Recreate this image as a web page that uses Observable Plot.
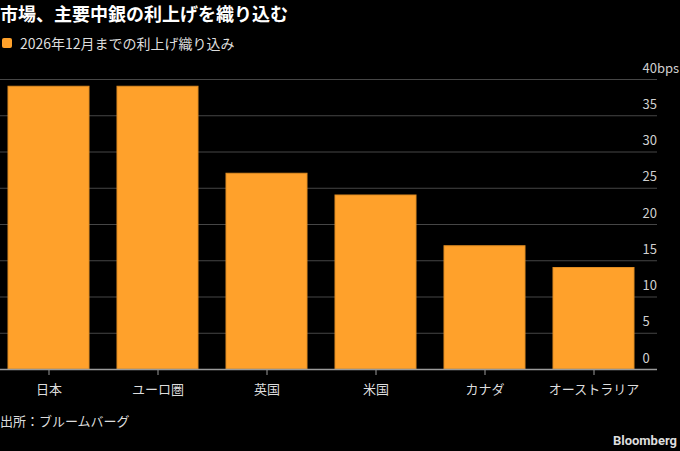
<!DOCTYPE html>
<html>
<head>
<meta charset="utf-8">
<script src="https://cdn.jsdelivr.net/npm/d3@7"></script>
<script src="https://cdn.jsdelivr.net/npm/@observablehq/plot@0.6"></script>
<style>
  html, body { margin: 0; padding: 0; background: #000; }
  #wrap { position: relative; width: 680px; height: 451px; background: #000; overflow: hidden;
          font-family: "Noto Sans CJK JP", "Noto Sans", sans-serif; color: #ddd; }
  #title { position: absolute; left: 0; top: 1px; font-size: 18px; line-height: 24px; font-weight: 700; color: #fff; white-space: nowrap; }
  #legend { position: absolute; left: 2px; top: 33px; font-size: 14px; line-height: 20px; color: #ddd; white-space: nowrap; display: flex; align-items: center; }
  #legend .sw { display: inline-block; width: 10px; height: 10px; border-radius: 2px; background: #ffa12b; margin-right: 8px; }
  #chart { position: absolute; left: 0; top: 58px; }
  #chart svg { overflow: visible; }
  #source { position: absolute; left: 0; top: 411px; font-size: 13px; line-height: 20px; color: #ddd; white-space: nowrap; }
  #brand { position: absolute; right: 3px; top: 431px; font-size: 13px; line-height: 20px; font-weight: 700; color: #ddd; font-family: "Roboto", "Noto Sans", sans-serif; }
</style>
</head>
<body>
<div id="wrap">
  <div id="title">市場、主要中銀の利上げを織り込む</div>
  <div id="legend"><span class="sw"></span>2026年12月までの利上げ織り込み</div>
  <div id="chart"></div>
  <div id="source">出所：ブルームバーグ</div>
  <div id="brand">Bloomberg</div>
</div>
<script>
const categories = ["日本", "ユーロ圏", "英国", "米国", "カナダ", "オーストラリア"];
const values = [39, 39, 27, 24, 17, 14];
const yTicks = [0, 5, 10, 15, 20, 25, 30, 35, 40];
const yTickLabels = ["0", "5", "10", "15", "20", "25", "30", "35", "40bps"];

const data = categories.map((c, i) => ({ category: c, value: values[i] }));

const chart = Plot.plot({
  width: 680,
  height: 346,
  marginTop: 21,
  marginBottom: 35,
  marginLeft: 0,
  marginRight: 23,
  style: { background: "transparent", overflow: "visible", fontFamily: "\"Noto Sans CJK JP\", \"Noto Sans\", sans-serif" },
  x: { domain: categories, padding: 0.256, paddingOuter: 0.1335, align: 0.25, label: null },
  y: { domain: [0, 40], label: null },
  marks: [
    Plot.gridY(yTicks, { stroke: "#464646", strokeOpacity: 1, strokeWidth: 1 }),
    Plot.axisY(yTicks, {
      anchor: "right", tickSize: 0, tickPadding: 0, textAnchor: "start", dx: -15, dy: -11,
      fill: "#d0d0d0", fontSize: 13, label: null,
      tickFormat: (d) => yTickLabels[yTicks.indexOf(d)]
    }),
    Plot.barY(data, { x: "category", y: "value", fill: "#ffa12b", stroke: "#e08c22", strokeWidth: 1 }),
    Plot.ruleY([0], { stroke: "#9a9a9a", strokeWidth: 1.5 }),
    Plot.axisX({ tickSize: 6, tickPadding: 9, stroke: "#9a9a9a", strokeWidth: 1, fill: "#dddddd", fontSize: 13, label: null })
  ]
});
document.getElementById("chart").appendChild(chart);
</script>
</body>
</html>
